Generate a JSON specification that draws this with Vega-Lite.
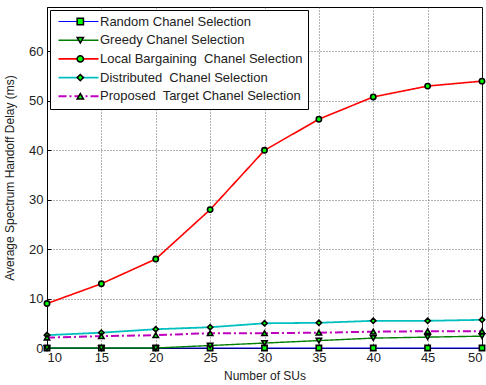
{
  "$schema": "https://vega.github.io/schema/vega-lite/v6.json",
  "width": 435,
  "height": 341,
  "autosize": {"type": "none"},
  "padding": {"left": 47, "top": 7, "right": 4, "bottom": 37},
  "background": "white",
  "config": {
    "view": {"stroke": "black", "strokeWidth": 1},
    "font": "Liberation Sans",
    "axis": {
      "labelFont": "Liberation Sans",
      "titleFont": "Liberation Sans",
      "labelColor": "#222",
      "titleColor": "#222",
      "labelFontSize": 13,
      "titleFontSize": 12,
      "titleFontWeight": "normal",
      "domainColor": "black",
      "tickColor": "black",
      "gridColor": "#444",
      "gridDash": [1, 2],
      "gridOpacity": 0.8
    },
    "legend": {
      "labelFont": "Liberation Sans",
      "labelFontSize": 13,
      "labelColor": "#222",
      "labelLimit": 400
    }
  },
  "data": {
    "values": [
      {"x": 10, "y": 0, "series": "Random Chanel Selection"},
      {"x": 15, "y": 0, "series": "Random Chanel Selection"},
      {"x": 20, "y": 0, "series": "Random Chanel Selection"},
      {"x": 25, "y": 0, "series": "Random Chanel Selection"},
      {"x": 30, "y": 0, "series": "Random Chanel Selection"},
      {"x": 35, "y": 0, "series": "Random Chanel Selection"},
      {"x": 40, "y": 0, "series": "Random Chanel Selection"},
      {"x": 45, "y": 0, "series": "Random Chanel Selection"},
      {"x": 50, "y": 0, "series": "Random Chanel Selection"},
      {"x": 10, "y": 0, "series": "Greedy Chanel Selection"},
      {"x": 15, "y": 0, "series": "Greedy Chanel Selection"},
      {"x": 20, "y": 0, "series": "Greedy Chanel Selection"},
      {"x": 25, "y": 0.5, "series": "Greedy Chanel Selection"},
      {"x": 30, "y": 1.0, "series": "Greedy Chanel Selection"},
      {"x": 35, "y": 1.5, "series": "Greedy Chanel Selection"},
      {"x": 40, "y": 2.0, "series": "Greedy Chanel Selection"},
      {"x": 45, "y": 2.2, "series": "Greedy Chanel Selection"},
      {"x": 50, "y": 2.4, "series": "Greedy Chanel Selection"},
      {"x": 10, "y": 9, "series": "Local Bargaining\u00a0 Chanel Selection"},
      {"x": 15, "y": 13, "series": "Local Bargaining\u00a0 Chanel Selection"},
      {"x": 20, "y": 18, "series": "Local Bargaining\u00a0 Chanel Selection"},
      {"x": 25, "y": 28, "series": "Local Bargaining\u00a0 Chanel Selection"},
      {"x": 30, "y": 40, "series": "Local Bargaining\u00a0 Chanel Selection"},
      {"x": 35, "y": 46.3, "series": "Local Bargaining\u00a0 Chanel Selection"},
      {"x": 40, "y": 50.8, "series": "Local Bargaining\u00a0 Chanel Selection"},
      {"x": 45, "y": 53, "series": "Local Bargaining\u00a0 Chanel Selection"},
      {"x": 50, "y": 54, "series": "Local Bargaining\u00a0 Chanel Selection"},
      {"x": 10, "y": 2.6, "series": "Distributed\u00a0 Chanel Selection"},
      {"x": 15, "y": 3.1, "series": "Distributed\u00a0 Chanel Selection"},
      {"x": 20, "y": 3.8, "series": "Distributed\u00a0 Chanel Selection"},
      {"x": 25, "y": 4.2, "series": "Distributed\u00a0 Chanel Selection"},
      {"x": 30, "y": 5.0, "series": "Distributed\u00a0 Chanel Selection"},
      {"x": 35, "y": 5.1, "series": "Distributed\u00a0 Chanel Selection"},
      {"x": 40, "y": 5.5, "series": "Distributed\u00a0 Chanel Selection"},
      {"x": 45, "y": 5.5, "series": "Distributed\u00a0 Chanel Selection"},
      {"x": 50, "y": 5.7, "series": "Distributed\u00a0 Chanel Selection"},
      {"x": 10, "y": 2.1, "series": "Proposed\u00a0 Target Chanel Selection"},
      {"x": 15, "y": 2.4, "series": "Proposed\u00a0 Target Chanel Selection"},
      {"x": 20, "y": 2.6, "series": "Proposed\u00a0 Target Chanel Selection"},
      {"x": 25, "y": 3.0, "series": "Proposed\u00a0 Target Chanel Selection"},
      {"x": 30, "y": 3.0, "series": "Proposed\u00a0 Target Chanel Selection"},
      {"x": 35, "y": 3.1, "series": "Proposed\u00a0 Target Chanel Selection"},
      {"x": 40, "y": 3.3, "series": "Proposed\u00a0 Target Chanel Selection"},
      {"x": 45, "y": 3.4, "series": "Proposed\u00a0 Target Chanel Selection"},
      {"x": 50, "y": 3.4, "series": "Proposed\u00a0 Target Chanel Selection"}
    ]
  },
  "encoding": {
    "x": {
      "field": "x", "type": "quantitative",
      "scale": {"domain": [10, 50], "nice": false, "zero": false},
      "axis": {"values": [10, 15, 20, 25, 30, 35, 40, 45, 50], "title": "Number of SUs", "labelPadding": 7, "titlePadding": 6, "tickSize": -4}
    },
    "y": {
      "field": "y", "type": "quantitative",
      "scale": {"domain": [0, 69], "nice": false},
      "axis": {"values": [0, 10, 20, 30, 40, 50, 60], "title": "Average Spectrum Handoff Delay (ms)", "labelPadding": 8, "titlePadding": 12, "tickSize": -4}
    }
  },
  "layer": [
    {
      "mark": {"type": "line", "clip": false},
      "encoding": {
        "color": {
          "field": "series", "type": "nominal",
          "scale": {
            "domain": ["Random Chanel Selection", "Greedy Chanel Selection", "Local Bargaining\u00a0 Chanel Selection", "Distributed\u00a0 Chanel Selection", "Proposed\u00a0 Target Chanel Selection"],
            "range": ["#0000ff", "#007f00", "#ff0000", "#00bfbf", "#bf00bf"]
          },
          "legend": {
            "title": null,
            "orient": "none",
            "legendX": 3,
            "legendY": 3,
            "padding": 5,
            "strokeColor": "black",
            "fillColor": "white",
            "symbolType": "M-4,0H4",
            "symbolSize": 100,
            "symbolOffset": 17,
            "labelOffset": 15,
            "rowPadding": 4.7
          }
        },
        "strokeWidth": {
          "field": "series", "type": "nominal",
          "scale": {
            "domain": ["Random Chanel Selection", "Greedy Chanel Selection", "Local Bargaining\u00a0 Chanel Selection", "Distributed\u00a0 Chanel Selection", "Proposed\u00a0 Target Chanel Selection"],
            "range": [1.2, 2, 1.5, 2, 2.5]
          },
          "legend": null
        },
        "strokeDash": {
          "field": "series", "type": "nominal",
          "scale": {
            "domain": ["Random Chanel Selection", "Greedy Chanel Selection", "Local Bargaining\u00a0 Chanel Selection", "Distributed\u00a0 Chanel Selection", "Proposed\u00a0 Target Chanel Selection"],
            "range": [[1, 0], [1, 0], [1, 0], [1, 0], [8, 3, 2, 3]]
          },
          "legend": null
        }
      }
    },
    {
      "mark": {"type": "point", "filled": true, "fill": "#00ff00", "stroke": "black", "strokeWidth": 1.6, "size": 28, "opacity": 1, "clip": false},
      "encoding": {
        "shape": {
          "field": "series", "type": "nominal",
          "sort": ["Random Chanel Selection", "Greedy Chanel Selection", "Local Bargaining\u00a0 Chanel Selection", "Distributed\u00a0 Chanel Selection", "Proposed\u00a0 Target Chanel Selection"],
          "scale": {"range": ["square", "triangle-down", "circle", "diamond", "triangle-up"]},
          "legend": {
            "title": null,
            "orient": "none",
            "legendX": 3,
            "legendY": 3,
            "padding": 5,
            "symbolSize": 40,
            "symbolOffset": 18.8,
            "labelExpr": "'\u00a0'",
            "labelOffset": 15,
            "rowPadding": 4.7,
            "encode": {
              "symbols": {
                "update": {
                  "fill": {"value": "#00ff00"},
                  "stroke": {"value": "black"},
                  "strokeWidth": {"value": 1.6},
                  "opacity": {"value": 1}
                }
              }
            }
          }
        }
      }
    }
  ]
}
